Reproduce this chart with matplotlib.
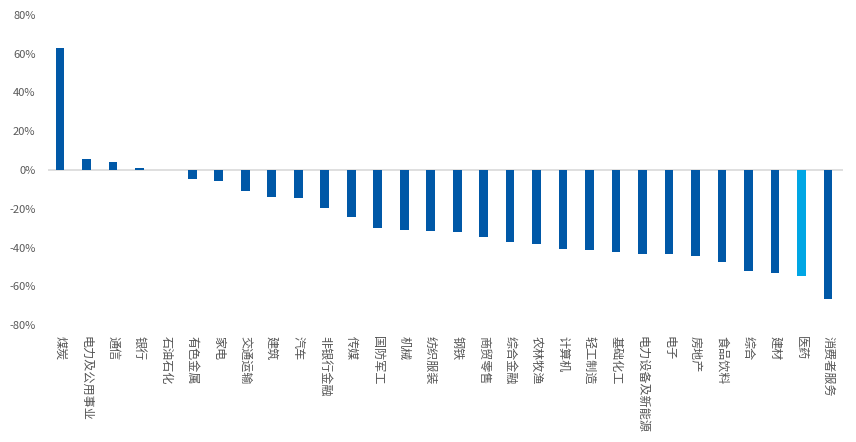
import matplotlib.pyplot as plt
from matplotlib.ticker import FuncFormatter

plt.rcParams['font.family'] = ['Noto Sans CJK SC', 'DejaVu Sans']

industries = ['煤炭', '电力及公用事业', '通信', '银行', '石油石化', '有色金属', '家电',
              '交通运输', '建筑', '汽车', '非银行金融', '传媒', '国防军工', '机械',
              '纺织服装', '钢铁', '商贸零售', '综合金融', '农林牧渔', '计算机',
              '轻工制造', '基础化工', '电力设备及新能源', '电子', '房地产', '食品饮料',
              '综合', '建材', '医药', '消费者服务']
returns = [63.1, 5.8, 4.1, 1.0, 0.0, -4.8, -5.6,
           -10.6, -14.0, -14.7, -19.4, -24.0, -30.0, -31.2,
           -31.6, -31.9, -34.7, -37.3, -38.3, -40.7,
           -41.3, -42.2, -43.1, -43.4, -44.3, -47.4,
           -52.0, -53.1, -54.8, -66.4]
highlight = '医药'

dark = '#0058A7'
light = '#00A6E4'
colors = [light if n == highlight else dark for n in industries]

fig = plt.figure(figsize=(8.56, 4.42), dpi=100)
ax = fig.add_axes([48 / 856, 1 - 325 / 442, (843 - 48) / 856, 310 / 442])

x = range(len(industries))
ax.bar(x, returns, width=0.33, color=colors, zorder=2)
ax.axhline(0, color='#D9D9D9', lw=1.2, zorder=1)

ax.set_ylim(-80, 80)
ax.set_yticks(range(-80, 81, 20))
ax.yaxis.set_major_formatter(FuncFormatter(lambda v, p: f'{v:.0f}%'))
ax.set_xlim(-0.45, len(industries) - 0.43)
ax.set_xticks(list(x))
ax.set_xticklabels(industries, rotation=-90, va='top', ha='center',
                   fontsize=8.7, color='#555555')

ax.tick_params(axis='y', length=0, labelsize=8, labelcolor='#595959', pad=9)
ax.tick_params(axis='x', length=0, pad=8)
for s in ax.spines.values():
    s.set_visible(False)

fig.savefig('out.png', dpi=100)
